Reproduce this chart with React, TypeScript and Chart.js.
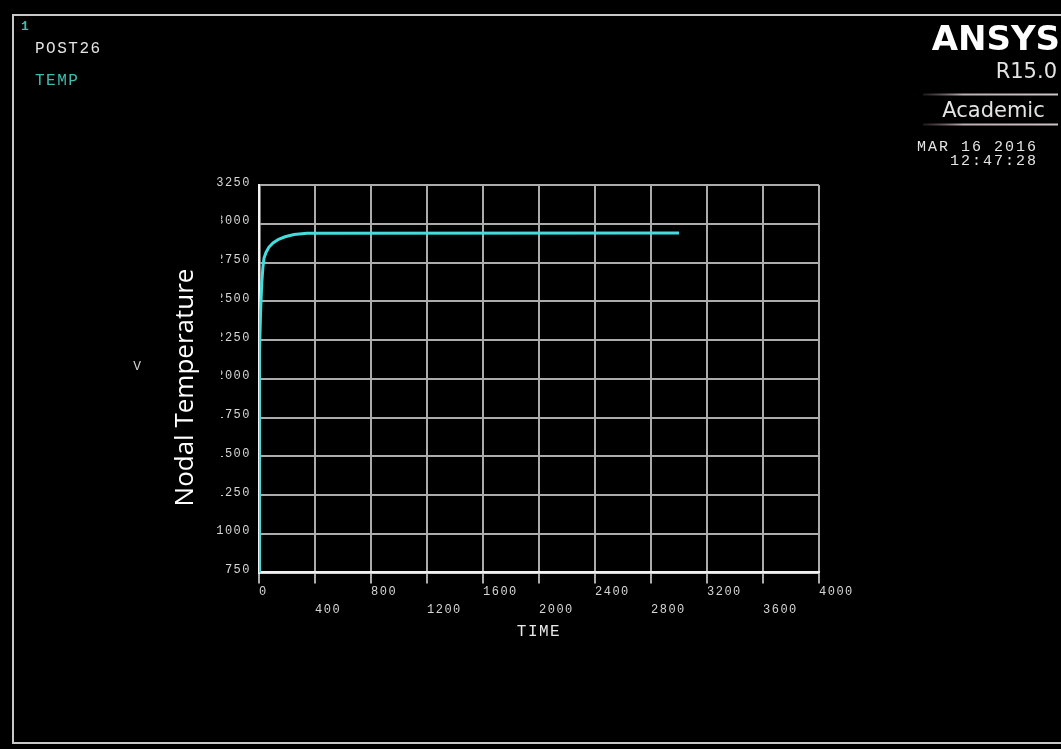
import { useEffect, useRef } from 'react';
import { Chart, registerables } from 'chart.js';

Chart.register(...registerables);

// Transient thermal response of one node (POST26 time-history variable)
const timeValues = [0, 2, 5, 12, 20, 28, 36, 50, 70, 100, 140, 186, 250, 343, 3000];
const tempValues = [750, 1900, 2180, 2450, 2620, 2720, 2779, 2815, 2848, 2876, 2900, 2916, 2930, 2938, 2940];

const xTickValues = [0, 400, 800, 1200, 1600, 2000, 2400, 2800, 3200, 3600, 4000];
const yTickValues = [750, 1000, 1250, 1500, 1750, 2000, 2250, 2500, 2750, 3000, 3250];

const MONO = '"Liberation Mono", "DejaVu Sans Mono", monospace';
const SANS = '"DejaVu Sans", sans-serif';
const TEAL = '#3fbcb0';
const TEXT = '#e4e4e4';

const ansysDecor = {
  id: 'ansysDecor',
  beforeDraw(chart: any) {
    const { ctx, width, height } = chart;
    ctx.save();
    ctx.fillStyle = '#000';
    ctx.fillRect(0, 0, width, height);
    ctx.strokeStyle = '#c8c8c8';
    ctx.lineWidth = 2;
    ctx.strokeRect(13, 15, 1062, 728);
    ctx.restore();
    // wide monospaced look for axis text
    ctx.letterSpacing = '1.5px';
  },
  afterDraw(chart: any) {
    const ctx = chart.ctx as CanvasRenderingContext2D;

    // Y-axis caption on its own black panel
    ctx.save();
    ctx.fillStyle = '#000';
    ctx.fillRect(163, 203, 58, 313);
    ctx.letterSpacing = '0px';
    ctx.translate(193, 387.5);
    ctx.rotate(-Math.PI / 2);
    ctx.font = '26px "Open Sans", sans-serif';
    ctx.fillStyle = '#ffffff';
    ctx.textAlign = 'center';
    ctx.textBaseline = 'alphabetic';
    ctx.fillText('Nodal Temperature', 0, 0);
    ctx.restore();

    ctx.save();
    ctx.textBaseline = 'middle';

    // window number and header
    ctx.letterSpacing = '0px';
    ctx.font = `bold 13px ${MONO}`;
    ctx.fillStyle = TEAL;
    ctx.textAlign = 'left';
    ctx.fillText('1', 21, 27);

    ctx.letterSpacing = '1.5px';
    ctx.font = `16px ${MONO}`;
    ctx.fillStyle = TEXT;
    ctx.fillText('POST26', 35, 49);
    ctx.fillStyle = TEAL;
    ctx.fillText('TEMP', 35, 80.5);

    // leftover axis letter
    ctx.font = `13px ${MONO}`;
    ctx.fillStyle = '#cfcfcf';
    ctx.textAlign = 'center';
    ctx.fillText('V', 138, 367);

    // product block
    ctx.letterSpacing = '0px';
    ctx.textBaseline = 'alphabetic';
    ctx.textAlign = 'right';
    ctx.font = `bold 34px ${SANS}`;
    ctx.fillStyle = '#ffffff';
    ctx.fillText('ANSYS', 1060, 50);
    ctx.font = `21px ${SANS}`;
    ctx.fillStyle = TEXT;
    ctx.fillText('R15.0', 1057, 78);

    const rule = (y: number) => {
      const g = ctx.createLinearGradient(923, 0, 1058, 0);
      g.addColorStop(0, 'rgba(150,120,135,0.2)');
      g.addColorStop(0.3, 'rgba(190,175,182,1)');
      g.addColorStop(1, 'rgba(205,195,200,1)');
      ctx.strokeStyle = g;
      ctx.lineWidth = 2;
      ctx.beginPath();
      ctx.moveTo(923, y);
      ctx.lineTo(1058, y);
      ctx.stroke();
    };
    rule(94.5);
    rule(124.5);

    ctx.textAlign = 'center';
    ctx.font = `21px ${SANS}`;
    ctx.fillStyle = TEXT;
    ctx.fillText('Academic', 993.5, 116.5);

    ctx.textAlign = 'right';
    ctx.textBaseline = 'middle';
    ctx.letterSpacing = '2px';
    ctx.font = `15px ${MONO}`;
    ctx.fillStyle = TEXT;
    ctx.fillText('MAR 16 2016', 1038, 147.5);
    ctx.fillText('12:47:28', 1038, 161);
    ctx.restore();
  },
};

export default function App() {
  const ref = useRef<HTMLCanvasElement>(null);

  useEffect(() => {
    const canvas = ref.current;
    if (!canvas) return;
    const chart = new Chart(canvas, {
      type: 'line',
      data: {
        datasets: [
          {
            label: 'TEMP',
            data: timeValues.map((t, i) => ({ x: t, y: tempValues[i] })),
            borderColor: '#44dcdc',
            borderWidth: 3,
            pointRadius: 0,
            tension: 0,
            fill: false,
          },
        ],
      },
      options: {
        responsive: false,
        animation: false,
        devicePixelRatio: 1,
        layout: { padding: { left: 0, top: 185, right: 242, bottom: 108 } },
        plugins: {
          legend: { display: false },
          tooltip: { enabled: false },
        },
        scales: {
          x: {
            type: 'linear',
            min: 0,
            max: 4000,
            afterBuildTicks: (s: any) => {
              s.ticks = xTickValues.map((v) => ({ value: v }));
            },
            afterFit: (s: any) => {
              s.height = 68.5;
            },
            grid: { color: '#acacac', lineWidth: 2, drawTicks: true, tickLength: 11 },
            border: { color: '#f2f2f2', width: 2.5 },
            ticks: {
              align: 'start',
              padding: 0,
              autoSkip: false,
              maxRotation: 0,
              color: '#d6d6d6',
              font: { family: MONO, size: 12, lineHeight: 1.46 },
              // alternate labels between two rows
              callback: (value: any, index: number) =>
                index % 2 === 0 ? String(value) : ['', String(value)],
            },
            title: {
              display: true,
              text: 'TIME',
              color: '#e8e8e8',
              font: { family: MONO, size: 16, lineHeight: 1.2 },
              padding: 0,
            },
          },
          y: {
            type: 'linear',
            min: 750,
            max: 3250,
            afterBuildTicks: (s: any) => {
              s.ticks = yTickValues.map((v) => ({ value: v }));
            },
            afterFit: (s: any) => {
              s.width = 259;
            },
            grid: { color: '#acacac', lineWidth: 2, drawTicks: false },
            border: { color: '#f2f2f2', width: 2.5 },
            ticks: {
              padding: 8,
              autoSkip: false,
              color: '#d6d6d6',
              font: { family: MONO, size: 12, lineHeight: 0.42 },
              // empty second line lifts each label slightly above its grid line
              callback: (value: any) => [String(value), ''],
            },
          },
        },
      },
      plugins: [ansysDecor],
    });
    return () => chart.destroy();
  }, []);

  return (
    <div style={{ position: 'fixed', left: 0, top: 0, width: 1061, height: 749, background: '#000' }}>
      <canvas ref={ref} width={1061} height={749} style={{ display: 'block' }} />
    </div>
  );
}
